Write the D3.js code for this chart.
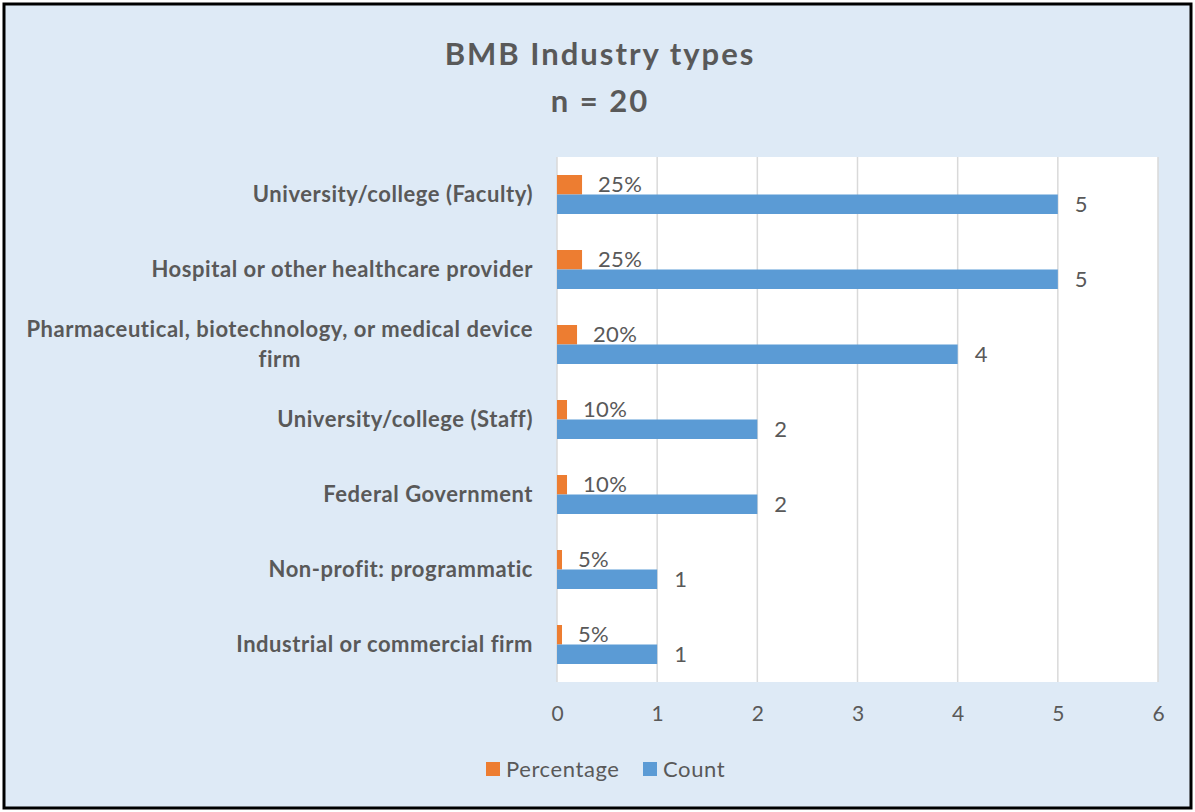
<!DOCTYPE html>
<html>
<head>
<meta charset="utf-8">
<script src="https://cdn.jsdelivr.net/npm/d3@7"></script>
<style>
  body { margin: 0; background: #fff; }
  text { font-family: Lato, "Open Sans", sans-serif; fill: #595959; }
</style>
</head>
<body>
<svg id="chart" width="1195" height="812"></svg>
<script>
//chart size
const SVG_WIDTH = 1195;
const SVG_HEIGHT = 812;

//categories, top to bottom
var categories = ['University/college (Faculty)', 'Hospital or other healthcare provider',
                  'Pharmaceutical, biotechnology, or medical device firm',
                  'University/college (Staff)', 'Federal Government',
                  'Non-profit: programmatic', 'Industrial or commercial firm'];
//the label lines (the long one wraps in two)
var labelLines = [['University/college (Faculty)'], ['Hospital or other healthcare provider'],
                  ['Pharmaceutical, biotechnology, or medical device', 'firm'],
                  ['University/college (Staff)'], ['Federal Government'],
                  ['Non-profit: programmatic'], ['Industrial or commercial firm']];
//series values
var percentage = [0.25, 0.25, 0.20, 0.10, 0.10, 0.05, 0.05];
var count = [5, 5, 4, 2, 2, 1, 1];
//x axis ticks
var xTicks = [0, 1, 2, 3, 4, 5, 6];
var seriesNames = ['Percentage', 'Count'];
var colors = {'Percentage': '#ED7D31', 'Count': '#5B9BD5'};

var svg = d3.select('#chart');

//background and border
svg.append('rect')
   .attr('x', 4).attr('y', 4)
   .attr('width', SVG_WIDTH - 8).attr('height', SVG_HEIGHT - 8)
   .attr('fill', '#DEEAF6')
   .attr('stroke', '#000')
   .attr('stroke-width', 3);

//scales
var x = d3.scaleLinear().domain([0, 6]).range([557, 1158]);
var y = d3.scaleBand().domain(categories).range([157, 682]).paddingInner(0.48).paddingOuter(0.24);

//plot area
svg.append('rect')
   .attr('x', x(0)).attr('y', 157)
   .attr('width', x(6) - x(0)).attr('height', 682 - 157)
   .attr('fill', '#fff');

//gridlines
svg.append('g')
   .selectAll('line')
   .data(xTicks)
   .enter()
   .append('line')
     .attr('x1', function(d) { return x(d); })
     .attr('x2', function(d) { return x(d); })
     .attr('y1', 157).attr('y2', 682)
     .attr('stroke', '#D9D9D9')
     .attr('stroke-width', 1.5);

//x axis labels
svg.append('g')
   .attr('transform', 'translate(0, 714)')
   .call(d3.axisBottom(x).tickValues(xTicks).tickSize(0).tickPadding(0).tickFormat(d3.format('d')))
   .call(function(g) { g.select('.domain').remove(); })
   .selectAll('text')
     .attr('dy', '0.35em')
     .attr('font-size', 21)
     .style('font-family', 'Lato, sans-serif')
     .attr('fill', '#595959');

var half = y.bandwidth() / 2;

//orange bars
svg.append('g')
   .selectAll('rect')
   .data(percentage)
   .enter()
   .append('rect')
     .attr('x', x(0))
     .attr('y', function(d, i) { return y(categories[i]); })
     .attr('width', function(d) { return x(d) - x(0); })
     .attr('height', half)
     .attr('fill', colors['Percentage']);

//percentage labels (drawn under the blue bars)
svg.append('g')
   .selectAll('text')
   .data(percentage)
   .enter()
   .append('text')
     .attr('x', function(d) { return x(d) + 16; })
     .attr('y', function(d, i) { return y(categories[i]) + half / 2; })
     .attr('dy', '0.35em')
     .attr('font-size', 22)
     .attr('letter-spacing', 0.3)
     .text(function(d) { return d3.format('.0%')(d); });

//blue bars
svg.append('g')
   .selectAll('rect')
   .data(count)
   .enter()
   .append('rect')
     .attr('x', x(0))
     .attr('y', function(d, i) { return y(categories[i]) + half; })
     .attr('width', function(d) { return x(d) - x(0); })
     .attr('height', half)
     .attr('fill', colors['Count']);

//count labels
svg.append('g')
   .selectAll('text')
   .data(count)
   .enter()
   .append('text')
     .attr('x', function(d) { return x(d) + 17; })
     .attr('y', function(d, i) { return y(categories[i]) + half * 1.5; })
     .attr('dy', '0.35em')
     .attr('font-size', 22)
     .text(function(d) { return d; });

//category labels, block right aligned, lines centred on each other
var labelGroups = svg.append('g')
   .selectAll('g')
   .data(labelLines)
   .enter()
   .append('g');

labelGroups.each(function(lines, i) {
    var g = d3.select(this);
    var cy = y(categories[i]) + half;
    var t = g.selectAll('text')
      .data(lines)
      .enter()
      .append('text')
        .attr('y', function(d, j) { return cy + (j - (lines.length - 1) / 2) * 30; })
        .attr('dy', '0.35em')
        .attr('font-size', 22)
        .attr('letter-spacing', 0.55)
        .attr('font-weight', 'bold')
        .attr('text-anchor', 'middle')
        .text(function(d) { return d; });
    var w = d3.max(t.nodes(), function(n) { return n.getComputedTextLength(); });
    t.attr('x', 533 - w / 2);
});

//title
svg.append('g')
   .selectAll('text')
   .data(['BMB Industry types', 'n = 20'])
   .enter()
   .append('text')
     .attr('x', 600)
     .attr('y', function(d, i) { return 65 + i * 47; })
     .attr('text-anchor', 'middle')
     .attr('font-size', 31)
     .attr('letter-spacing', 2)
     .attr('font-weight', 'bold')
     .text(function(d) { return d; });

//legend
var legend = svg.append('g')
   .selectAll('g')
   .data(seriesNames)
   .enter()
   .append('g')
     .attr('transform', function(d, i) { return 'translate(' + [486, 643][i] + ', 769)'; });

legend.append('rect')
   .attr('x', 0).attr('y', -7)
   .attr('width', 14).attr('height', 14)
   .attr('fill', function(d) { return colors[d]; });

legend.append('text')
   .attr('x', 20)
   .attr('dy', '0.35em')
   .attr('font-size', 22)
   .attr('letter-spacing', 0.6)
   .text(function(d) { return d; });
</script>
</body>
</html>
